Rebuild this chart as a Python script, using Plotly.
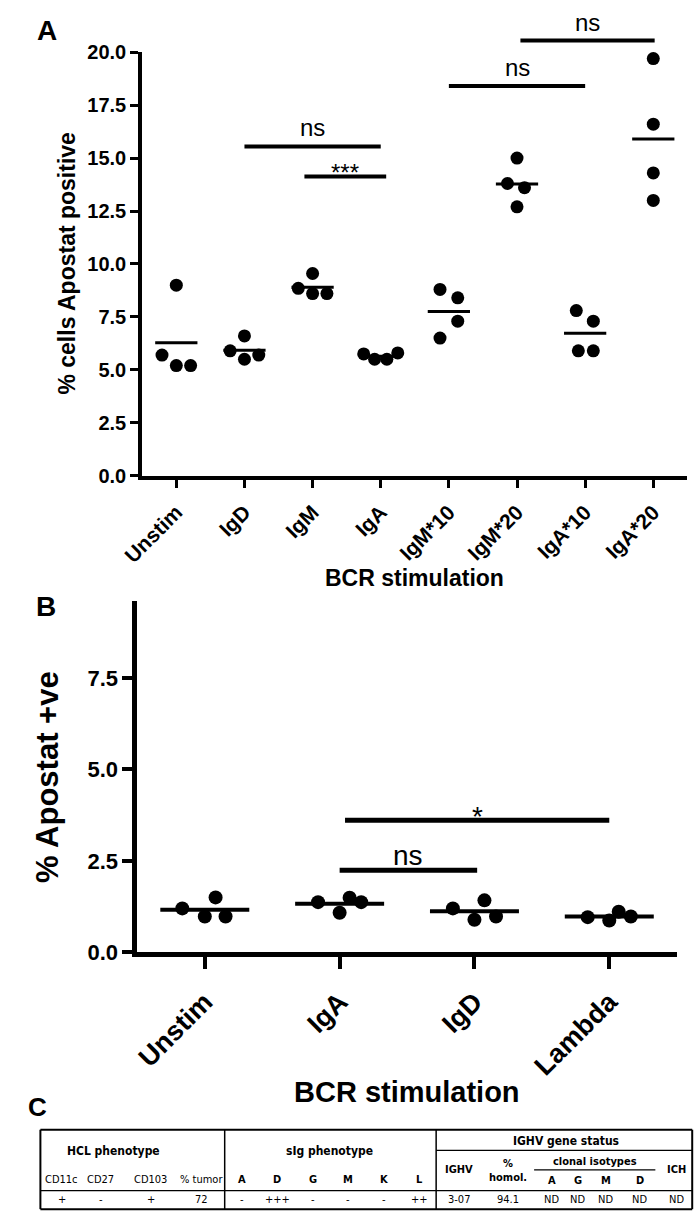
import numpy as np
import plotly.graph_objects as go

W, H = 699, 1230
FONT = "Liberation Sans, Arial, sans-serif"
NARROW = "DejaVu Sans Condensed, Liberation Sans Narrow, Liberation Sans, sans-serif"

# ---------------- Panel A data ----------------
cats_A = ["Unstim", "IgD", "IgM", "IgA", "IgM*10", "IgM*20", "IgA*10", "IgA*20"]
unstim_A = [9.0, 5.7, 5.2, 5.2]
igd_A = [6.6, 5.9, 5.5, 5.7]
igm_A = [9.55, 8.85, 8.6, 8.6]
iga_A = [5.75, 5.5, 5.5, 5.8]
igm10_A = [8.8, 8.4, 7.3, 6.5]
igm20_A = [15.0, 13.8, 13.6, 12.7]
iga10_A = [7.8, 7.3, 5.9, 5.9]
iga20_A = [19.7, 16.6, 14.3, 13.0]
yticks_A = [0, 2.5, 5, 7.5, 10, 12.5, 15, 17.5, 20]
# horizontal scatter spread of points inside each column (category units)
spread_A = [[0, -0.21, 0, 0.21], [0, -0.21, 0, 0.21], [0, -0.21, 0, 0.21],
            [-0.25, -0.09, 0.09, 0.25], [-0.13, 0.13, 0.13, -0.13],
            [0, -0.14, 0.11, 0], [-0.13, 0.12, -0.1, 0.12], [0, 0, 0, 0]]
# comparisons: (from category, to category, height, label)
comps_A = [(1, 3, 15.55, "ns"), (1.88, 3.08, 14.13, "***"),
           (4, 6, 18.4, "ns"), (5.05, 7.02, 20.55, "ns")]

# ---------------- Panel B data ----------------
cats_B = ["Unstim", "IgA", "IgD", "Lambda"]
unstim_B = [1.2, 1.5, 0.98, 0.98]
iga_B = [1.37, 1.08, 1.49, 1.37]
igd_B = [1.2, 0.89, 1.42, 0.98]
lambda_B = [0.96, 0.87, 1.11, 0.98]
yticks_B = [0, 2.5, 5, 7.5]
spread_B = [[-0.167, 0.08, 0, 0.154], [-0.16, 0, 0.074, 0.16],
            [-0.16, 0, 0.074, 0.16], [-0.16, 0, 0.07, 0.16]]
comps_B = [(1, 2.02, 2.24, "ns"), (1.04, 3.0, 3.61, "*")]

# ---------------- Panel C table ----------------
hcl_cols = ["CD11c", "CD27", "CD103", "% tumor"]
hcl_vals = ["+", "-", "+", "72"]
sig_cols = ["A", "D", "G", "M", "K", "L"]
sig_vals = ["-", "+++", "-", "-", "-", "++"]
ighv_cols = ["IGHV", "%<br>homol."]
ighv_vals = ["3-07", "94.1"]
clonal_cols = ["A", "G", "M", "D"]
clonal_vals = ["ND", "ND", "ND", "ND"]
ich_val = "ND"

# ---------------- layout geometry (pixels) ----------------
def px(p):
    return p / W


def py(p):
    return 1 - p / H


domA_x = [px(125), px(687)]
domA_y = [py(474), py(42)]
rngA = [0, 20]
domB_x = [px(120), px(676)]
domB_y = [py(960), py(602)]
rngB = [0, 9.6]


def to_paper(v, dom, rng):
    return dom[0] + (v - rng[0]) / (rng[1] - rng[0]) * (dom[1] - dom[0])


fig = go.Figure()
shapes = []
annotations = []


def add_groups(groups, spreads, xa, ya, msize, half, lw):
    for i, (vals, sp) in enumerate(zip(groups, spreads)):
        xs = [i + s for s in sp]
        fig.add_trace(go.Scatter(x=xs, y=vals, mode="markers", xaxis=xa, yaxis=ya,
                                 marker=dict(color="black", size=msize), cliponaxis=False,
                                 showlegend=False, hoverinfo="skip"))
        m = float(np.mean(vals))
        fig.add_trace(go.Scatter(x=[i - half, i + half], y=[m, m], mode="lines",
                                 xaxis=xa, yaxis=ya, line=dict(color="black", width=lw),
                                 showlegend=False, hoverinfo="skip"))


groups_A = [unstim_A, igd_A, igm_A, iga_A, igm10_A, igm20_A, iga10_A, iga20_A]
groups_B = [unstim_B, iga_B, igd_B, lambda_B]
add_groups(groups_A, spread_A, "x", "y", 13, 0.31, 3)
add_groups(groups_B, spread_B, "x2", "y2", 14, 0.33, 4)


def add_comps(comps, xref, dom, rng, lw, fsize, shifts):
    for (a, b, h, lab) in comps:
        yp = to_paper(h, dom, rng)
        shapes.append(dict(type="line", xref=xref, yref="paper", x0=a, x1=b, y0=yp, y1=yp,
                           line=dict(color="black", width=lw)))
        annotations.append(dict(x=(a + b) / 2, y=yp, xref=xref, yref="paper", text=lab,
                                showarrow=False, yanchor="bottom", xanchor="center",
                                yshift=shifts[lab],
                                font=dict(family=FONT, size=fsize, color="black")))


add_comps(comps_A, "x", domA_y, rngA, 4, 24, {"ns": 3, "***": -12})
add_comps(comps_B, "x2", domB_y, rngB, 5, 28, {"ns": -3, "*": -14})

# panel letters
for lab, xp, yp, fs in [("A", 27, 20, 28), ("B", 26, 607, 28), ("C", 17, 1118, 26)]:
    annotations.append(dict(x=px(xp), y=py(yp), xref="paper", yref="paper", text=lab,
                            showarrow=False, xanchor="center", yanchor="middle",
                            font=dict(family=FONT, size=fs, color="black", weight="bold")))

# axis titles
annotations += [
    dict(x=px(47), y=(domA_y[0] + domA_y[1]) / 2, xref="paper", yref="paper",
         text="% cells Apostat positive", textangle=-90, showarrow=False,
         xanchor="center", yanchor="middle",
         font=dict(family=FONT, size=23, color="black", weight="bold")),
    dict(x=(domA_x[0] + domA_x[1]) / 2, y=py(578), xref="paper", yref="paper",
         text="BCR stimulation", showarrow=False, xanchor="center", yanchor="middle",
         font=dict(family=FONT, size=23, color="black", weight="bold")),
    dict(x=px(28), y=(domB_y[0] + domB_y[1]) / 2, xref="paper", yref="paper",
         text="% Apostat +ve", textangle=-90, showarrow=False,
         xanchor="center", yanchor="middle",
         font=dict(family=FONT, size=31, color="black", weight="bold")),
    dict(x=(domB_x[0] + domB_x[1]) / 2, y=py(1103), xref="paper", yref="paper",
         text="BCR stimulation", showarrow=False, xanchor="center", yanchor="middle",
         font=dict(family=FONT, size=29, color="black", weight="bold")),
]

# ---------------- table (panel C) ----------------
t_top, t_sub, t_clon, t_hbot, t_bot = 1141, 1162, 1182, 1203, 1222
t_left, t_div1, t_div2, t_right = 20, 210, 428, 692
hcl_x = [42, 82, 134, 186]
sig_x = [228, 264, 301, 337, 374, 411]
ighv_x = [452, 502]
clonal_x = [547, 574, 603, 638]
ich_x = 676


def hline(x0, x1, y, w):
    shapes.append(dict(type="line", xref="paper", yref="paper", x0=px(x0), x1=px(x1),
                       y0=py(y), y1=py(y), line=dict(color="black", width=w)))


def vline(x, y0, y1, w):
    shapes.append(dict(type="line", xref="paper", yref="paper", x0=px(x), x1=px(x),
                       y0=py(y0), y1=py(y1), line=dict(color="black", width=w)))


hline(t_left, t_right, t_top, 2)
hline(t_left, t_right, t_bot, 2)
hline(t_left, t_right, t_hbot, 1.2)
hline(t_div2, t_right, t_sub, 1.2)
hline(529, 654, t_clon, 1.2)
vline(t_left, t_top, t_bot, 2)
vline(t_right, t_top, t_bot, 2)
vline(t_div1, t_top, t_bot, 1.5)
vline(t_div2, t_top, t_bot, 1.5)


def ttext(s, x, y, bold=False, size=11):
    annotations.append(dict(x=px(x), y=py(y), xref="paper", yref="paper", text=s,
                            showarrow=False, xanchor="center", yanchor="middle",
                            font=dict(family=NARROW, size=size, color="black",
                                      weight="bold" if bold else "normal")))


ttext("HCL phenotype", 95, 1163, True, 12)
ttext("sIg phenotype", 318, 1163, True, 12)
ttext("IGHV gene status", 562, 1152, True, 12)
ttext("clonal isotypes", 592, 1173, True)
ttext("ICH", ich_x, 1182, True)
ttext(ighv_cols[0], ighv_x[0], 1182, True)
ttext(ighv_cols[1], ighv_x[1], 1183, True)
for c, v, x in zip(hcl_cols, hcl_vals, hcl_x):
    ttext(c, x, 1192)
    ttext(v, x, 1212)
for c, v, x in zip(sig_cols, sig_vals, sig_x):
    ttext(c, x, 1192, True)
    ttext(v, x, 1212)
for v, x in zip(ighv_vals, ighv_x):
    ttext(v, x, 1212)
for c, v, x in zip(clonal_cols, clonal_vals, clonal_x):
    ttext(c, x, 1193, True)
    ttext(v, x, 1212)
ttext(ich_val, ich_x, 1212)

axis_common = dict(showgrid=False, zeroline=False, showline=True, linecolor="black",
                   ticks="outside", tickcolor="black", fixedrange=True)

fig.update_layout(
    width=W, height=H, margin=dict(l=0, r=0, t=0, b=0),
    paper_bgcolor="white", plot_bgcolor="white", showlegend=False,
    shapes=shapes, annotations=annotations,
    xaxis=dict(domain=domA_x, range=[-0.5, 7.5], tickvals=list(range(len(cats_A))),
               ticktext=cats_A, tickangle=-45, ticklen=8, tickwidth=3, linewidth=4,
               anchor="y", ticklabelstandoff=4,
               tickfont=dict(family=FONT, size=21, color="black", weight="bold"),
               **axis_common),
    yaxis=dict(domain=domA_y, range=rngA, tickvals=yticks_A,
               ticktext=[f"{v:.1f}" for v in yticks_A], ticklen=8, tickwidth=3,
               linewidth=4, anchor="x",
               tickfont=dict(family=FONT, size=20, color="black", weight="bold"),
               **axis_common),
    xaxis2=dict(domain=domB_x, range=[-0.5, 3.5], tickvals=list(range(len(cats_B))),
                ticktext=cats_B, tickangle=-45, ticklen=12, tickwidth=4, linewidth=5,
                anchor="y2", ticklabelstandoff=6,
                tickfont=dict(family=FONT, size=27, color="black", weight="bold"),
                **axis_common),
    yaxis2=dict(domain=domB_y, range=rngB, tickvals=yticks_B,
                ticktext=[f"{v:.1f}" for v in yticks_B], ticklen=10, tickwidth=4,
                linewidth=5, anchor="x2",
                tickfont=dict(family=FONT, size=22, color="black", weight="bold"),
                **axis_common),
)

fig.write_html("out.html", config={"displayModeBar": False},
               post_script="document.body.style.margin='0';"
                           "document.body.style.overflow='hidden';")
